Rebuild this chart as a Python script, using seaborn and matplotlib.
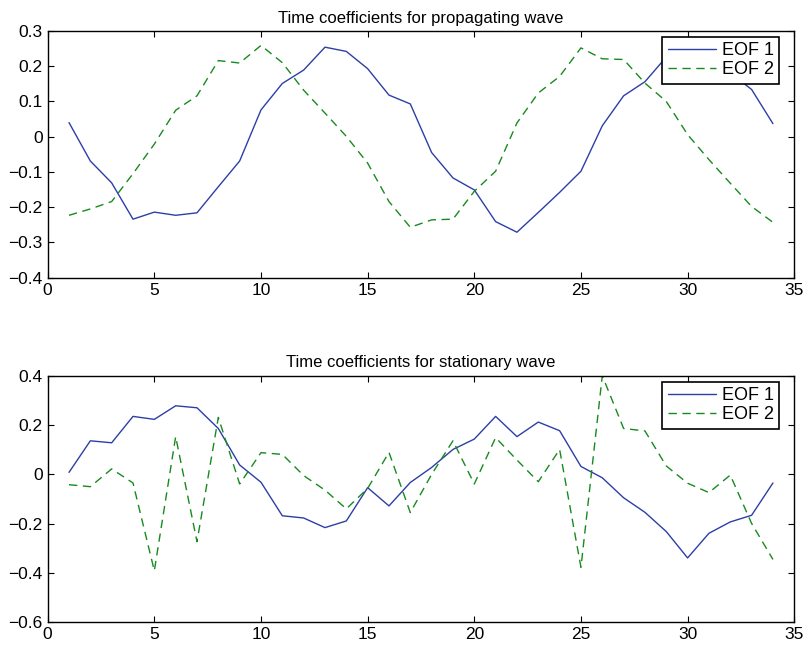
import matplotlib
matplotlib.use("Agg")
import matplotlib.pyplot as plt
import seaborn as sns
import numpy as np
import pandas as pd

sns.set_style("ticks")
plt.rcParams['font.family'] = ['Liberation Sans', 'DejaVu Sans']
plt.rcParams['text.color'] = 'black'

# time index
t = list(range(1, 35))

# propagating wave
prop_eof1 = [0.040, -0.069, -0.131, -0.234, -0.214, -0.223, -0.216, -0.142, -0.069, 0.076,
             0.151, 0.189, 0.254, 0.242, 0.193, 0.118, 0.093, -0.045, -0.117, -0.151,
             -0.241, -0.271, -0.215, -0.158, -0.098, 0.031, 0.116, 0.156, 0.226, 0.250,
             0.235, 0.181, 0.134, 0.037]
prop_eof2 = [-0.223, -0.205, -0.184, -0.105, -0.021, 0.075, 0.116, 0.216, 0.209, 0.259,
             0.210, 0.132, 0.067, 0.001, -0.075, -0.184, -0.257, -0.236, -0.234, -0.155,
             -0.098, 0.039, 0.124, 0.171, 0.252, 0.221, 0.219, 0.152, 0.100, 0.006,
             -0.065, -0.132, -0.198, -0.243]

# stationary wave
stat_eof1 = [0.008, 0.136, 0.128, 0.235, 0.223, 0.278, 0.270, 0.186, 0.038, -0.032,
             -0.168, -0.177, -0.216, -0.189, -0.054, -0.128, -0.033, 0.028, 0.101, 0.143,
             0.235, 0.153, 0.212, 0.177, 0.032, -0.014, -0.095, -0.154, -0.232, -0.339,
             -0.239, -0.193, -0.166, -0.035]
stat_eof2 = [-0.042, -0.050, 0.022, -0.035, -0.391, 0.153, -0.273, 0.231, -0.039, 0.088,
             0.081, -0.005, -0.064, -0.140, -0.057, 0.089, -0.155, 0.000, 0.136, -0.039,
             0.149, 0.058, -0.030, 0.101, -0.377, 0.400, 0.186, 0.176, 0.034, -0.036,
             -0.074, -0.003, -0.199, -0.345]

blue = '#2c3fa6'
green = '#178a1e'

fig = plt.figure(figsize=(8.08, 6.45), dpi=100)
ax1 = fig.add_axes([0.059, 0.5695, 0.924, 0.3825])
ax2 = fig.add_axes([0.059, 0.0352, 0.924, 0.3823])

panels = [
    (ax1, prop_eof1, prop_eof2, 'Time coefficients for propagating wave', (-0.4, 0.3), np.arange(-0.4, 0.31, 0.1)),
    (ax2, stat_eof1, stat_eof2, 'Time coefficients for stationary wave', (-0.6, 0.4), np.arange(-0.6, 0.41, 0.2)),
]

def fmt(v):
    v = round(v, 1) + 0.0
    if abs(v) < 1e-9:
        return '0'
    return ('%g' % v).replace('-', '\u2212')

for ax, e1, e2, title, ylim, yt in panels:
    sns.lineplot(x=t, y=e1, ax=ax, color=blue, lw=1.0, label='EOF 1')
    sns.lineplot(x=t, y=e2, ax=ax, color=green, lw=1.0, label='EOF 2')
    ax.lines[1].set_dashes((6, 4))
    ax.set_xlim(0, 35)
    ax.set_ylim(*ylim)
    ax.set_xticks(range(0, 36, 5))
    ax.set_yticks(yt)
    ax.set_yticklabels([fmt(v) for v in yt])
    ax.tick_params(direction='in', length=4, width=0.8, top=True, right=True,
                   labelsize=12.5, pad=3.5, colors='black')
    for sp in ax.spines.values():
        sp.set_visible(True)
        sp.set_linewidth(1.0)
        sp.set_color('black')
    ax.set_title(title, fontsize=12, pad=6, color='black')
    leg = ax.legend(loc='upper right', bbox_to_anchor=(0.980, 0.976), borderaxespad=0,
                    fontsize=13, handlelength=2.7, frameon=True, fancybox=False,
                    borderpad=0.3, labelspacing=0.12, handletextpad=0.3)
    leg.get_frame().set_edgecolor('black')
    leg.get_frame().set_linewidth(1.2)
    leg.get_frame().set_alpha(1)
    leg.get_lines()[1].set_dashes((6, 4))

fig.savefig('out.png', dpi=100)
